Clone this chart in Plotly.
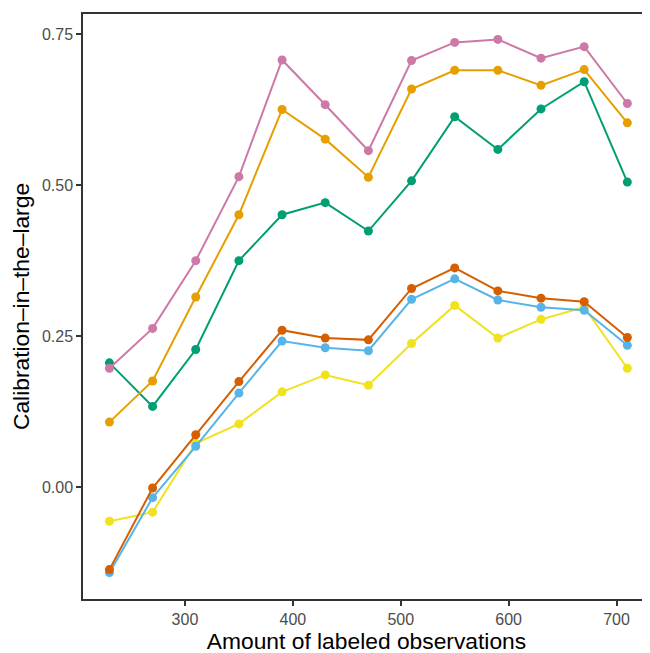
import plotly.graph_objects as go

x_vals = [230, 270, 310, 350, 390, 430, 470, 510, 550, 590, 630, 670, 710]

pink = [0.197, 0.263, 0.375, 0.514, 0.707, 0.633, 0.557, 0.706, 0.736, 0.741, 0.710, 0.729, 0.635]
orange = [0.108, 0.176, 0.315, 0.451, 0.625, 0.576, 0.513, 0.659, 0.690, 0.690, 0.665, 0.691, 0.603]
green = [0.206, 0.134, 0.228, 0.375, 0.451, 0.471, 0.424, 0.507, 0.613, 0.559, 0.626, 0.671, 0.505]
vermillion = [-0.136, -0.001, 0.087, 0.175, 0.260, 0.247, 0.244, 0.329, 0.363, 0.325, 0.313, 0.307, 0.248]
skyblue = [-0.141, -0.017, 0.068, 0.156, 0.242, 0.231, 0.226, 0.311, 0.345, 0.310, 0.298, 0.293, 0.235]
yellow = [-0.056, -0.041, 0.073, 0.105, 0.158, 0.186, 0.169, 0.238, 0.301, 0.247, 0.278, 0.298, 0.197]

series = [
    ("s1", yellow, "#F0E21E"),
    ("s2", skyblue, "#56B4E9"),
    ("s3", vermillion, "#D55E00"),
    ("s4", green, "#009E73"),
    ("s5", orange, "#E69F00"),
    ("s6", pink, "#CC79A7"),
]

x_ticks = [300, 400, 500, 600, 700]
y_ticks = [0.0, 0.25, 0.50, 0.75]
y_tick_text = ["0.00", "0.25", "0.50", "0.75"]

fig = go.Figure()
for name, vals, col in series:
    fig.add_trace(go.Scatter(
        x=x_vals, y=vals, mode="lines+markers", name=name,
        line=dict(color=col, width=2),
        marker=dict(color=col, size=9),
    ))

axis_common = dict(
    showgrid=False, zeroline=False, showline=True, linecolor="#333333", linewidth=1.5,
    ticks="outside", ticklen=5, tickwidth=1.5, tickcolor="#333333",
    tickfont=dict(family="Liberation Sans, Arial, sans-serif", size=16, color="#4D4D4D"),
)

fig.update_layout(
    width=650, height=653,
    paper_bgcolor="white", plot_bgcolor="white",
    showlegend=False,
    margin=dict(l=75, r=8, t=4, b=62),
    font=dict(family="Liberation Sans, Arial, sans-serif"),
    xaxis=dict(
        range=[205.5, 731], tickvals=x_ticks, mirror=True,
        title=dict(text="Amount of labeled observations", standoff=3,
                   font=dict(size=22.8, color="black")),
        **axis_common,
    ),
    yaxis=dict(
        range=[-0.1846, 0.783], tickvals=y_ticks, ticktext=y_tick_text,
        title=dict(text="Calibration\u2013in\u2013the\u2013large", standoff=6,
                   font=dict(size=22.8, color="black")),
        **axis_common,
    ),
)

fig.write_html("out.html")
